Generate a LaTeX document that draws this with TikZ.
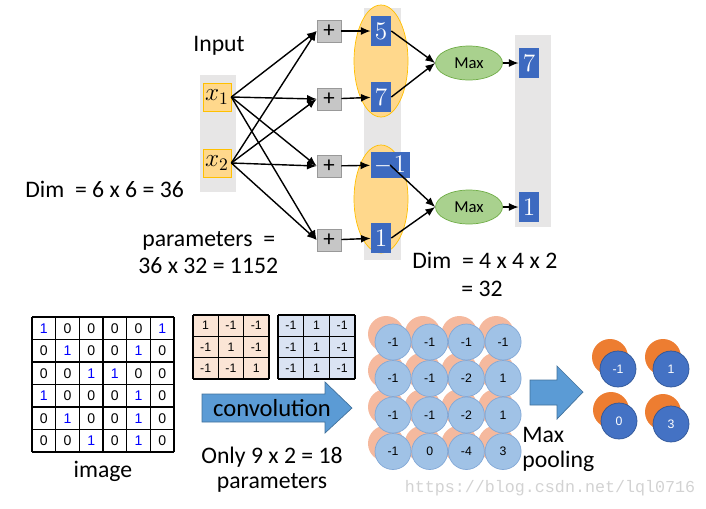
\documentclass[tikz,border=0pt]{standalone}
\usepackage{fontspec}
\setmainfont{Carlito}
\newfontfamily\cellfont{Liberation Sans}
\newfontfamily\markfont{Liberation Mono}
\usetikzlibrary{shapes.geometric,arrows.meta}
\definecolor{barGray}{RGB}{231,230,230}
\definecolor{ovalFill}{RGB}{255,216,140}
\definecolor{ovalLine}{RGB}{255,192,0}
\definecolor{boxBlue}{RGB}{61,106,192}
\definecolor{maxFill}{RGB}{169,209,142}
\definecolor{maxLine}{RGB}{112,173,71}
\definecolor{filtOrange}{RGB}{251,229,214}
\definecolor{filtBlue}{RGB}{218,227,243}
\definecolor{arrowBlue}{RGB}{91,155,213}
\definecolor{arrowLine}{RGB}{65,113,156}
\definecolor{softOrange}{RGB}{245,185,158}
\definecolor{softBlue}{RGB}{160,194,230}
\definecolor{softLine}{RGB}{130,168,214}
\definecolor{deepOrange}{RGB}{237,125,49}
\definecolor{deepBlue}{RGB}{68,114,196}
\definecolor{deepLine}{RGB}{47,85,151}
\begin{document}
\begin{tikzpicture}[x=0.02cm,y=-0.02cm,
    inbox/.style={draw=ovalLine,fill=ovalFill,minimum size=0.56cm,inner sep=0pt,font=\fontsize{14}{14}\selectfont},
    plusbox/.style={draw=gray!80,fill=gray!45,minimum width=0.48cm,minimum height=0.44cm,inner sep=0pt,font=\fontsize{13}{13}\selectfont},
    valbox/.style={fill=boxBlue,text=white,minimum width=0.4cm,minimum height=0.6cm,inner sep=0pt,font=\fontsize{15}{15}\selectfont},
    maxnode/.style={ellipse,draw=maxLine,fill=maxFill,minimum width=1.34cm,minimum height=0.68cm,inner sep=0pt,font=\fontsize{9.5}{10}\selectfont},
    link/.style={-{Latex[length=5.5pt,width=4.5pt]},line width=0.8pt},
    words/.style={font=\fontsize{13.5}{15}\selectfont,inner sep=0pt},
    cell/.style={font=\cellfont\fontsize{8}{8}\selectfont,inner sep=0pt},
    fcell/.style={font=\cellfont\fontsize{7}{7}\selectfont,inner sep=0pt},
    bubble/.style={circle,minimum size=0.72cm,inner sep=0pt,font=\cellfont\fontsize{7}{7}\selectfont}]
    \useasboundingbox (0,0) rectangle (706,508);

    % top: fully connected view
    \fill[barGray] (200,75) rectangle (236,192);
    \fill[barGray] (364,8) rectangle (401,260);
    \fill[barGray] (515,35) rectangle (551,227);
    \filldraw[fill=ovalFill,draw=ovalLine] (381,61) ellipse (27 and 56);
    \filldraw[fill=ovalFill,draw=ovalLine] (381,199) ellipse (27 and 54);

    \node[words,anchor=base west] (input) at (193,51) {Input};
    \node[inbox] (x1) at (217,97) {$x_1$};
    \node[inbox] (x2) at (217,163) {$x_2$};

    \node[plusbox] (p1) at (329,31) {+};
    \node[plusbox] (p2) at (329,99) {+};
    \node[plusbox] (p3) at (329,166) {+};
    \node[plusbox] (p4) at (329,240) {+};

    \node[valbox] (b1) at (381,31) {$5$};
    \node[valbox] (b2) at (381,97) {$7$};
    \node[valbox,minimum width=0.78cm,minimum height=0.52cm] (b3) at (390,165) {$-1$};
    \node[valbox] (b4) at (381,238) {$1$};

    \node[maxnode] (max1) at (469,63) {Max};
    \node[maxnode] (max2) at (469,207) {Max};
    \node[valbox] (o1) at (529,63) {$7$};
    \node[valbox] (o2) at (529,207) {$1$};

    \draw[link] (x1.east) -- (p1.west);
    \draw[link] (x1.east) -- (p2.west);
    \draw[link] (x1.east) -- (p3.west);
    \draw[link] (x1.east) -- (p4.west);
    \draw[link] (x2.east) -- (p1.west);
    \draw[link] (x2.east) -- (p2.west);
    \draw[link] (x2.east) -- (p3.west);
    \draw[link] (x2.east) -- (p4.west);
    \draw[link] (p1) -- (b1);
    \draw[link] (p2) -- (b2);
    \draw[link] (p3) -- (b3);
    \draw[link] (p4) -- (b4);
    \draw[link] (b1.east) -- (max1.west);
    \draw[link] (b2.east) -- (max1.west);
    \draw[link] (b3.center) -- (max2.west);
    \draw[link] (b4.east) -- (max2.west);
    \draw[link] (max1) -- (o1);
    \draw[link] (max2) -- (o2);

    \node[words,anchor=base west] (dim1) at (25,197) {Dim\ \ = 6 x 6 = 36};
    \node[words,anchor=base west] (par1) at (142,246) {parameters\ \ =};
    \node[words,anchor=base west] (par2) at (138,273) {36 x 32 = 1152};
    \node[words,anchor=base west] (dim2) at (412,268) {Dim\ \ = 4 x 4 x 2};
    \node[words,anchor=base west] (dim3) at (461,296) {= 32};

    % bottom: image and filters
    \foreach \i in {0,...,6} {
        \draw[line width=0.6pt] (32+\i*23.67,317) -- (32+\i*23.67,452);
        \draw[line width=0.6pt] (32,317+\i*22.5) -- (174,317+\i*22.5);
    }
    \foreach \row [count=\r] in {{1,0,0,0,0,1},{0,1,0,0,1,0},{0,0,1,1,0,0},{1,0,0,0,1,0},{0,1,0,0,1,0},{0,0,1,0,1,0}}
        \foreach \v [count=\c] in \row
            \node[cell] (img-\r-\c) at (32+\c*23.67-11.8,317+\r*22.5-11.2) {\ifnum\v=1\color{blue}\fi\v};
    \node[words,anchor=base] (imglabel) at (103,477) {image};

    \fill[filtOrange] (193,315) rectangle (269,379);
    \fill[filtBlue] (278,315) rectangle (355,379);
    \foreach \i in {0,...,3} {
        \draw[line width=0.6pt] (193+\i*25.33,315) -- (193+\i*25.33,379);
        \draw[line width=0.6pt] (193,315+\i*21.33) -- (269,315+\i*21.33);
        \draw[line width=0.6pt] (278+\i*25.67,315) -- (278+\i*25.67,379);
        \draw[line width=0.6pt] (278,315+\i*21.33) -- (355,315+\i*21.33);
    }
    \foreach \row [count=\r] in {{1,-1,-1},{-1,1,-1},{-1,-1,1}}
        \foreach \v [count=\c] in \row
            \node[fcell] (fa-\r-\c) at (193+\c*25.33-12.7,315+\r*21.33-10.7) {\v};
    \foreach \row [count=\r] in {{-1,1,-1},{-1,1,-1},{-1,1,-1}}
        \foreach \v [count=\c] in \row
            \node[fcell] (fb-\r-\c) at (278+\c*25.67-12.8,315+\r*21.33-10.7) {\v};

    \filldraw[fill=arrowBlue,draw=arrowLine] (202,394) -- (325,394) -- (325,382) -- (352,408) -- (325,433) -- (325,422) -- (202,422) -- cycle;
    \node[words,font=\fontsize{14}{15}\selectfont] (conv) at (272,408) {convolution};
    \node[words,anchor=base] (only) at (272,463) {Only 9 x 2 = 18};
    \node[words,anchor=base] (par3) at (272,488) {parameters};

    % bottom: feature maps and pooling
    \foreach \row [count=\r] in {{-1,-1,-1,-1},{-1,-1,-2,1},{-1,-1,-2,1},{-1,0,-4,3}}
        \foreach \v [count=\c] in \row {
            \node[bubble,fill=softOrange] (fo-\r-\c) at (393+\c*36.7-36.7-7,342+\r*36.5-36.5-8) {};
        }
    \foreach \row [count=\r] in {{-1,-1,-1,-1},{-1,-1,-2,1},{-1,-1,-2,1},{-1,0,-4,3}}
        \foreach \v [count=\c] in \row {
            \node[bubble,fill=softBlue,draw=softLine] (fb-\r-\c) at (393+\c*36.7-36.7,342+\r*36.5-36.5) {\v};
        }

    \filldraw[fill=arrowBlue,draw=arrowLine] (530,380) -- (557,380) -- (557,366) -- (583,392) -- (557,419) -- (557,405) -- (530,405) -- cycle;
    \node[words,anchor=base west] (maxword) at (522,442) {Max};
    \node[words,anchor=base west] (poolword) at (522,467) {pooling};

    \node[bubble,fill=deepOrange] (po-1) at (610,357) {};
    \node[bubble,fill=deepOrange] (po-2) at (663,357) {};
    \node[bubble,fill=deepOrange] (po-3) at (611,410) {};
    \node[bubble,fill=deepOrange] (po-4) at (663,412) {};
    \node[bubble,fill=deepBlue,draw=deepLine,text=white] (pb-1) at (618,369) {-1};
    \node[bubble,fill=deepBlue,draw=deepLine,text=white] (pb-2) at (671,369) {1};
    \node[bubble,fill=deepBlue,draw=deepLine,text=white] (pb-3) at (619,421) {0};
    \node[bubble,fill=deepBlue,draw=deepLine,text=white] (pb-4) at (671,424) {3};

    \node[text=gray!35,font=\markfont\fontsize{9.5}{10}\selectfont] (mark) at (550,488) {https://blog.csdn.net/lql0716};
\end{tikzpicture}
\end{document}
